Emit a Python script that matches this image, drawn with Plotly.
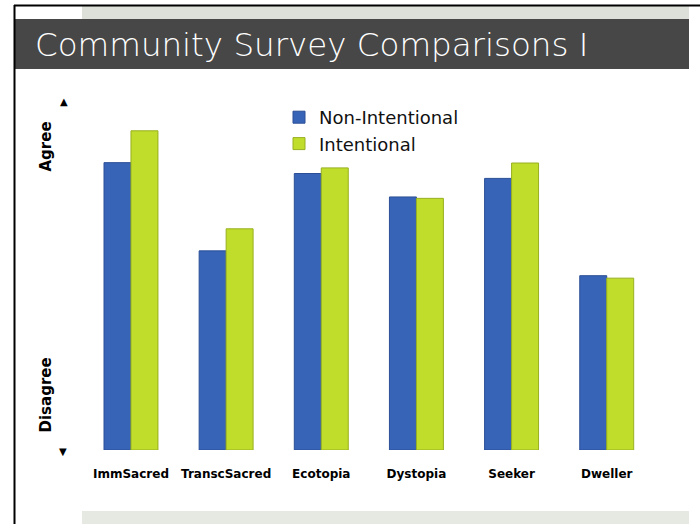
import plotly.graph_objects as go

categories = ["ImmSacred", "TranscSacred", "Ecotopia", "Dystopia", "Seeker", "Dweller"]
non_intentional = [82.1, 56.9, 79.0, 72.3, 77.6, 49.8]
intentional = [91.2, 63.2, 80.6, 71.9, 82.0, 49.1]
series_names = ["Non-Intentional", "Intentional"]
title_text = "Community Survey Comparisons I"

W, H = 700, 524
def px(x):
    return x / W
def py(y):
    return 1 - y / H

fig = go.Figure()
fig.add_trace(go.Bar(x=categories, y=non_intentional, name=series_names[0],
                     marker=dict(color="#3864B8", line=dict(color="#2B4F96", width=1))))
fig.add_trace(go.Bar(x=categories, y=intentional, name=series_names[1],
                     marker=dict(color="#BFDD2A", line=dict(color="#98B020", width=1))))

shapes = [
    dict(type="rect", xref="paper", yref="paper", x0=px(82), x1=px(689), y0=py(6), y1=py(19),
         fillcolor="#DDE0D8", line=dict(width=0), layer="below"),
    dict(type="rect", xref="paper", yref="paper", x0=px(14), x1=px(689), y0=py(19), y1=py(69),
         fillcolor="#474747", line=dict(width=0), layer="below"),
    dict(type="rect", xref="paper", yref="paper", x0=px(82), x1=px(689), y0=py(511), y1=py(524),
         fillcolor="#E6E8E2", line=dict(width=0), layer="below"),
    dict(type="line", xref="paper", yref="paper", x0=px(14), x1=px(700), y0=py(5.5), y1=py(5.5),
         line=dict(color="black", width=2)),
    dict(type="line", xref="paper", yref="paper", x0=px(14.5), x1=px(14.5), y0=py(5), y1=py(524),
         line=dict(color="black", width=2)),
]

annotations = [
    dict(text=title_text, xref="paper", yref="paper", x=px(33), y=py(45), xanchor="left",
         yanchor="middle", showarrow=False,
         font=dict(family="DejaVu Sans ExtraLight, DejaVu Sans", size=32.5, color="white", weight=200)),
    dict(text="Agree", xref="paper", yref="paper", x=px(45.5), y=py(147), textangle=-90,
         xanchor="center", yanchor="middle", showarrow=False,
         font=dict(family="DejaVu Sans", size=15, color="black", weight="bold")),
    dict(text="Disagree", xref="paper", yref="paper", x=px(45.5), y=py(395), textangle=-90,
         xanchor="center", yanchor="middle", showarrow=False,
         font=dict(family="DejaVu Sans", size=15, color="black", weight="bold")),
    dict(text="▲", xref="paper", yref="paper", x=px(63.5), y=py(102), showarrow=False,
         xanchor="center", yanchor="middle",
         font=dict(family="DejaVu Sans", size=10, color="black")),
    dict(text="▼", xref="paper", yref="paper", x=px(62.5), y=py(451), showarrow=False,
         xanchor="center", yanchor="middle",
         font=dict(family="DejaVu Sans", size=10, color="black")),
]

fig.update_layout(
    width=W, height=H,
    margin=dict(l=0, r=0, t=0, b=0),
    paper_bgcolor="white", plot_bgcolor="white",
    barmode="group", bargap=0.433, bargroupgap=0,
    shapes=shapes, annotations=annotations,
    showlegend=True,
    legend=dict(x=px(279), y=py(99), xanchor="left", yanchor="top",
                font=dict(family="DejaVu Sans", size=18, color="#111111"),
                bgcolor="rgba(0,0,0,0)", tracegroupgap=0),
    xaxis=dict(domain=[px(83.4), px(654.3)], showgrid=False, zeroline=False, showline=False,
               ticks="", ticklabelstandoff=15,
               tickfont=dict(family="DejaVu Sans", size=12, color="black", weight="bold")),
    yaxis=dict(domain=[py(450), py(100)], range=[0, 100], showgrid=False, zeroline=False,
               showline=False, showticklabels=False, ticks=""),
)

fig.write_html("out.html", config={"displayModeBar": False},
               post_script="document.body.style.margin='0';")
